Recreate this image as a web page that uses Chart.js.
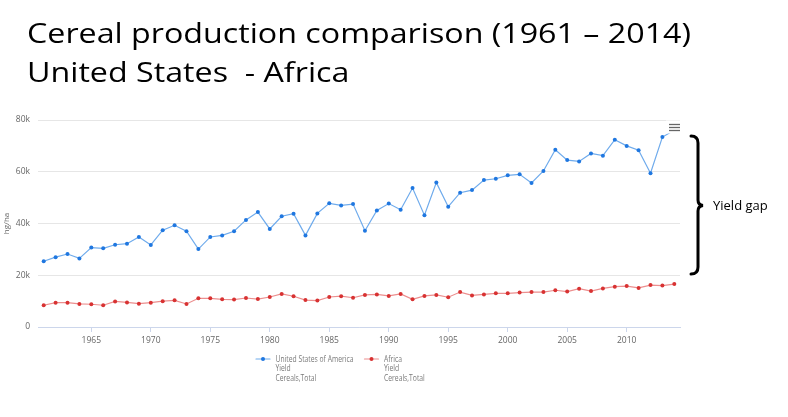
<!DOCTYPE html>
<html>
<head>
<meta charset="utf-8">
<script src="https://cdn.jsdelivr.net/npm/chart.js@4.4.1/dist/chart.umd.min.js"></script>
<style>
  html, body { margin: 0; padding: 0; background: #fff; }
  #chart { display: block; }
</style>
</head>
<body>
<canvas id="chart" width="788" height="417"></canvas>
<script>
const titleLines = ["Cereal production comparison (1961 \u2013 2014)", "United States  - Africa"];
const gapLabel = "Yield gap";
const yAxisTitle = "hg/ha";

const years = [];
for (let y = 1961; y <= 2014; y++) years.push(y);
const xTickYears = [1965, 1970, 1975, 1980, 1985, 1990, 1995, 2000, 2005, 2010];

const usaLabel = ["United States of America", "Yield", "Cereals,Total"];
const usaYield = [
  25400, 27000, 28200, 26500, 30700, 30400, 31800, 32200, 34800, 31700,
  37400, 39300, 37000, 30100, 34800, 35400, 37000, 41400, 44400, 37900,
  42800, 43800, 35400, 43900, 47800, 47000, 47500, 37200, 45000, 47700,
  45300, 53700, 43200, 55800, 46500, 51900, 52900, 56800, 57300, 58600,
  59000, 55700, 60300, 68500, 64500, 64000, 67100, 66200, 72400, 70000,
  68300, 59400, 73400, 76000
];

const africaLabel = ["Africa", "Yield", "Cereals,Total"];
const africaYield = [
  8400, 9400, 9400, 8900, 8800, 8400, 9900, 9500, 9000, 9400,
  10000, 10300, 8900, 11100, 11100, 10700, 10600, 11200, 10800, 11600,
  12800, 11900, 10400, 10200, 11600, 11900, 11300, 12400, 12600, 12000,
  12800, 10700, 12000, 12400, 11500, 13500, 12200, 12600, 13000, 13000,
  13300, 13500, 13500, 14200, 13700, 14800, 13900, 14900, 15600, 15800,
  15100, 16200, 16000, 16600
];

const series = [
  { label: usaLabel, values: usaYield, line: "#6fabec", point: "#1f77e0" },
  { label: africaLabel, values: africaYield, line: "#ec8e8e", point: "#d83232" },
];

const sideDecor = {
  id: "sideDecor",
  afterDraw(chart) {
    const ctx = chart.ctx;
    ctx.save();

    // title
    ctx.fillStyle = "#000";
    ctx.textBaseline = "alphabetic";
    ctx.textAlign = "left";
    ctx.font = '27px "Open Sans"';
    const sx = 664 / ctx.measureText(titleLines[0]).width;
    titleLines.forEach((t, i) => {
      ctx.save();
      ctx.translate(27, 43 + i * 39);
      ctx.scale(sx, 1);
      ctx.fillText(t, 0, 0);
      ctx.restore();
    });

    // menu icon (sits over the last point)
    ctx.fillStyle = "#fff";
    ctx.fillRect(666, 120.5, 17, 13);
    ctx.strokeStyle = "#666";
    ctx.lineWidth = 1.3;
    [124.5, 127.5, 130.5].forEach((y) => {
      ctx.beginPath();
      ctx.moveTo(669, y);
      ctx.lineTo(680, y);
      ctx.stroke();
    });

    // brace
    ctx.strokeStyle = "#000";
    ctx.lineWidth = 3;
    ctx.lineCap = "round";
    ctx.beginPath();
    ctx.moveTo(691, 136);
    ctx.quadraticCurveTo(698, 136, 698, 143);
    ctx.lineTo(698, 200);
    ctx.quadraticCurveTo(698, 205, 703, 205.5);
    ctx.quadraticCurveTo(698, 206, 698, 211);
    ctx.lineTo(698, 267);
    ctx.quadraticCurveTo(698, 274, 691, 274);
    ctx.stroke();

    ctx.fillStyle = "#000";
    ctx.font = '13px "Open Sans"';
    ctx.fillText(gapLabel, 713, 210);

    // legend
    ctx.font = '9.5px "Open Sans"';
    ctx.textBaseline = "middle";
    const lsx = 78 / ctx.measureText(usaLabel[0]).width;
    const legendX = [263, 371.5];
    series.forEach((s, i) => {
      const cx = legendX[i];
      ctx.strokeStyle = s.line;
      ctx.lineWidth = 1.2;
      ctx.beginPath();
      ctx.moveTo(cx - 7, 359);
      ctx.lineTo(cx + 7, 359);
      ctx.stroke();
      ctx.fillStyle = s.point;
      ctx.beginPath();
      ctx.arc(cx, 359, 2, 0, Math.PI * 2);
      ctx.fill();
      ctx.fillStyle = "#7a7a7a";
      s.label.forEach((t, j) => {
        ctx.save();
        ctx.translate(cx + 12.5, 359 + j * 9.5);
        ctx.scale(lsx, 1);
        ctx.fillText(t, 0, 0);
        ctx.restore();
      });
    });

    ctx.restore();
  },
};

new Chart(document.getElementById("chart"), {
  type: "line",
  data: {
    labels: years,
    datasets: series.map((s) => ({
      label: s.label.join(" "),
      data: years.map((y, i) => ({ x: y, y: s.values[i] })),
      borderColor: s.line,
      backgroundColor: s.point,
      pointBackgroundColor: s.point,
      pointBorderWidth: 0,
      pointRadius: 2,
      borderWidth: 1.2,
      tension: 0,
    })),
  },
  options: {
    responsive: false,
    animation: false,
    layout: { padding: { top: 120, right: 108, left: 0, bottom: 0 } },
    plugins: { legend: { display: false }, tooltip: { enabled: false } },
    scales: {
      x: {
        type: "linear",
        min: 1960.52,
        max: 2014.48,
        afterBuildTicks: (scale) => { scale.ticks = xTickYears.map((v) => ({ value: v })); },
        afterFit: (scale) => { scale.height = 90; },
        grid: { drawOnChartArea: false, drawTicks: true, tickLength: 5, color: "#ccd6eb" },
        border: { color: "#ccd6eb" },
        ticks: { color: "#666", font: { family: "Open Sans", size: 8.5 }, padding: 3, maxRotation: 0, autoSkip: false, callback: (v) => String(v) },
      },
      y: {
        min: 0,
        max: 80000,
        afterFit: (scale) => { scale.width = 38; },
        grid: { color: "#e6e6e6", drawTicks: false },
        border: { display: false },
        ticks: { stepSize: 20000, color: "#666", font: { family: "Open Sans", size: 8.5 }, padding: 8, callback: (v) => (v === 0 ? "0" : v / 1000 + "k") },
        title: { display: true, text: yAxisTitle, color: "#666", font: { family: "Open Sans", size: 8 }, padding: { top: 2 } },
      },
    },
  },
  plugins: [sideDecor],
});
</script>
</body>
</html>
